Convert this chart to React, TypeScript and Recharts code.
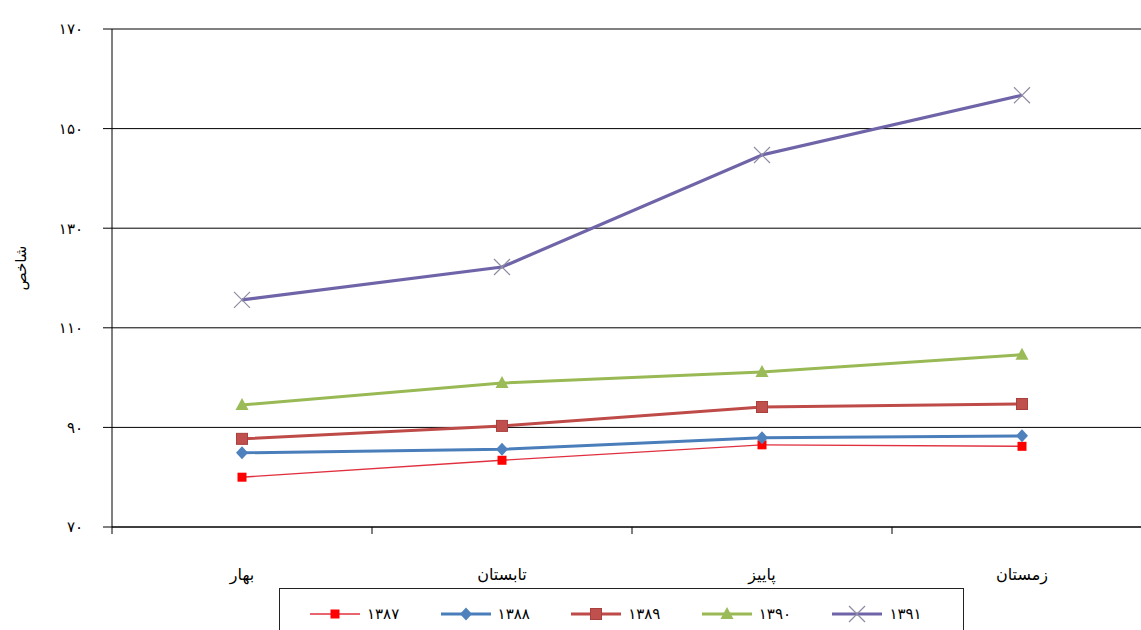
import React from "react";
import { LineChart, Line, XAxis, YAxis, CartesianGrid } from "recharts";

// فصل‌ها و شاخص سال‌ها
const SEASONS = ["بهار", "تابستان", "پاییز", "زمستان"];
const Y_TICKS = [70, 90, 110, 130, 150, 170];
const S1387 = [80.0, 83.4, 86.5, 86.2];
const S1388 = [84.9, 85.6, 87.9, 88.3];
const S1389 = [87.7, 90.3, 94.1, 94.7];
const S1390 = [94.5, 98.9, 101.1, 104.6];
const S1391 = [115.6, 122.2, 144.7, 156.7];
const YEARS = ["1387", "1388", "1389", "1390", "1391"];

const FONT = "'DejaVu Sans', sans-serif";
const W = 1160;
const H = 630;
const MARGIN = { top: 29, right: 8, bottom: 43, left: 0 };
const Y_W = 112;
const BAND = (W - MARGIN.left - MARGIN.right - Y_W) / SEASONS.length;

const FA = "۰۱۲۳۴۵۶۷۸۹";
const toFa = (v: number | string) =>
  String(v).replace(/\d/g, (d) => FA[Number(d)]);

type Marker = "smallSquare" | "diamond" | "square" | "triangle" | "cross";

type Style = {
  key: string;
  color: string;
  width: number;
  marker: Marker;
  fill: string;
};

const STYLES: Style[] = [
  { key: "y1387", color: "#E0303F", width: 1.4, marker: "smallSquare", fill: "#FF0000" },
  { key: "y1388", color: "#4A7EBB", width: 3, marker: "diamond", fill: "#4F81BD" },
  { key: "y1389", color: "#BE4B48", width: 3, marker: "square", fill: "#C0504D" },
  { key: "y1390", color: "#98B954", width: 3, marker: "triangle", fill: "#9BBB59" },
  { key: "y1391", color: "#7064A8", width: 3.2, marker: "cross", fill: "#8C8CA4" },
];

const SERIES = [S1387, S1388, S1389, S1390, S1391];

const data = SEASONS.map((season, i) => {
  const row: Record<string, number | string> = { season, pos: i + 0.5 };
  STYLES.forEach((s, j) => {
    row[s.key] = SERIES[j][i];
  });
  return row;
});

function markerShape(kind: Marker, cx: number, cy: number, fill: string, k?: string) {
  switch (kind) {
    case "smallSquare":
      return <rect key={k} x={cx - 4.5} y={cy - 4.5} width={9} height={9} fill={fill} />;
    case "square":
      return (
        <rect key={k} x={cx - 5.5} y={cy - 5.5} width={11} height={11} fill={fill} stroke="#A8403D" strokeWidth={1} />
      );
    case "diamond":
      return (
        <path key={k} d={`M${cx},${cy - 6.5}L${cx + 6},${cy}L${cx},${cy + 6.5}L${cx - 6},${cy}Z`} fill={fill} />
      );
    case "triangle":
      return (
        <path key={k} d={`M${cx},${cy - 7}L${cx + 6.5},${cy + 5}L${cx - 6.5},${cy + 5}Z`} fill={fill} />
      );
    case "cross":
      return (
        <path
          key={k}
          d={`M${cx - 8},${cy - 8}L${cx + 8},${cy + 8}M${cx + 8},${cy - 8}L${cx - 8},${cy + 8}`}
          stroke={fill}
          strokeWidth={1.2}
          fill="none"
        />
      );
  }
}

function SeasonTick(props: any) {
  const { x, y, payload } = props;
  const i = payload.value as number;
  if (i >= SEASONS.length) return <g />;
  return (
    <text
      x={x + BAND / 2}
      y={y + 44}
      textAnchor="middle"
      fontSize={16}
      fontFamily={FONT}
      fill="#000"
    >
      {SEASONS[i]}
    </text>
  );
}

function AxisTitle(props: any) {
  const vb = props.viewBox || { x: 0, y: 0, width: 0, height: 0 };
  const x = vb.x + 21;
  const y = vb.y + vb.height / 2 - 10;
  return (
    <text
      transform={`translate(${x},${y}) rotate(-90)`}
      textAnchor="middle"
      dominantBaseline="central"
      fontSize={15}
      fontFamily={FONT}
      fill="#000"
    >
      شاخص
    </text>
  );
}

function LegendBox() {
  return (
    <div
      style={{
        position: "absolute",
        left: 279,
        top: 588,
        width: 685,
        height: 60,
        border: "1px solid #222",
        background: "#fff",
        boxSizing: "border-box",
        display: "flex",
        alignItems: "flex-start",
        paddingTop: 16,
        paddingLeft: 30,
        fontFamily: FONT,
        fontSize: 15,
        color: "#000",
      }}
    >
      {STYLES.map((s, i) => (
        <div key={s.key} style={{ display: "flex", alignItems: "center", width: 132, height: 18 }}>
          <svg width={50} height={18} style={{ display: "block" }}>
            <line x1={0} y1={9} x2={50} y2={9} stroke={s.color} strokeWidth={s.width} />
            {markerShape(s.marker, 25, 9, s.fill)}
          </svg>
          <span style={{ marginLeft: 7, lineHeight: "18px" }}>{toFa(YEARS[i])}</span>
        </div>
      ))}
    </div>
  );
}

export default function App() {
  return (
    <div
      style={{
        position: "fixed",
        left: 0,
        top: 0,
        width: 1141,
        height: 630,
        overflow: "hidden",
        background: "#fff",
      }}
    >
      <div style={{ position: "relative", width: W, height: H }}>
        <LineChart width={W} height={H} data={data} margin={MARGIN}>
          <CartesianGrid vertical={false} stroke="#000" strokeWidth={1} />
          <XAxis
            type="number"
            dataKey="pos"
            domain={[0, SEASONS.length]}
            ticks={[0, 1, 2, 3, 4]}
            interval={0}
            height={60}
            tickSize={7}
            tickMargin={2}
            axisLine={{ stroke: "#000" }}
            tickLine={{ stroke: "#000" }}
            tick={<SeasonTick />}
          />
          <YAxis
            width={Y_W}
            domain={[70, 170]}
            ticks={Y_TICKS}
            interval={0}
            tickSize={9}
            tickMargin={20}
            axisLine={{ stroke: "#000" }}
            tickLine={{ stroke: "#000" }}
            tick={{ fontSize: 15, fill: "#000", fontFamily: FONT }}
            tickFormatter={(v: number) => toFa(v)}
            label={<AxisTitle />}
          />
          {STYLES.map((s) => (
            <Line
              key={s.key}
              dataKey={s.key}
              type="linear"
              stroke={s.color}
              strokeWidth={s.width}
              isAnimationActive={false}
              activeDot={false}
              dot={(p: any) => markerShape(s.marker, p.cx, p.cy, s.fill, `${s.key}-${p.index}`)}
            />
          ))}
        </LineChart>
        <LegendBox />
      </div>
    </div>
  );
}
